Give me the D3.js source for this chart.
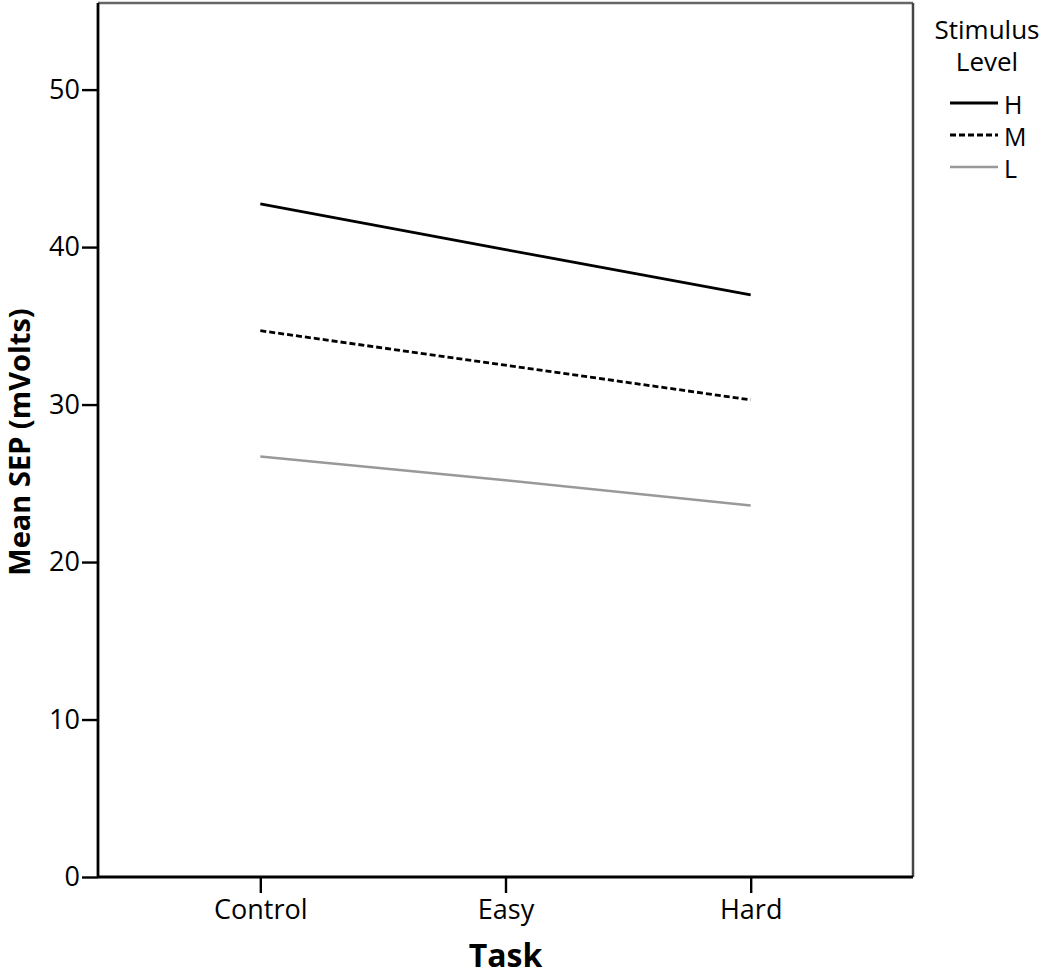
<!DOCTYPE html>
<html><head><meta charset="utf-8">
<script src="https://cdn.jsdelivr.net/npm/d3@7"></script>
<style>body{margin:0;background:#fff}svg{display:block}text{font-family:"Open Sans",sans-serif;fill:#000}</style>
</head><body>
<svg id="c" width="1050" height="975"></svg>
<script>
const categories = ["Control", "Easy", "Hard"];
const seriesNames = ["H", "M", "L"];
const valuesH = [42.75, 39.84, 36.96];
const valuesM = [34.69, 32.5, 30.3];
const valuesL = [26.7, 25.19, 23.59];
const yTicks = [0, 10, 20, 30, 40, 50];
const yMax = 55.5;

const series = [
  {name: seriesNames[0], values: valuesH, color: "#000", width: 2.8, dash: null},
  {name: seriesNames[1], values: valuesM, color: "#000", width: 2.8, dash: "6,3"},
  {name: seriesNames[2], values: valuesL, color: "#999", width: 2.4, dash: null}
];

const svg = d3.select("#c");
const L = 98, R = 913, T = 3, B = 877;
const x = d3.scalePoint().domain(categories).range([L, R]).padding(0.662);
const y = d3.scaleLinear().domain([0, yMax]).range([B, T]);

// frame
svg.append("line").attr("x1", L).attr("x2", R).attr("y1", T).attr("y2", T).attr("stroke", "#666").attr("stroke-width", 2.5);
svg.append("line").attr("x1", R).attr("x2", R).attr("y1", T).attr("y2", B).attr("stroke", "#444").attr("stroke-width", 2.5);

const yAxis = svg.append("g").attr("transform", `translate(${L},0)`)
  .call(d3.axisLeft(y).tickValues(yTicks).tickSize(16).tickPadding(2).tickSizeOuter(0));
const xAxis = svg.append("g").attr("transform", `translate(0,${B})`)
  .call(d3.axisBottom(x).tickSize(16).tickPadding(7).tickSizeOuter(0));
[yAxis, xAxis].forEach(a => {
  a.select(".domain").attr("stroke", "#000").attr("stroke-width", 2.8);
  a.selectAll(".tick line").attr("stroke", "#000").attr("stroke-width", 2.4);
  a.selectAll(".tick text").attr("font-size", 27).attr("font-family", "Open Sans").attr("fill", "#111");
});
yAxis.select(".domain").attr("d", `M0,${T}V${B}`);
xAxis.select(".domain").attr("d", `M${L},0H${R}`);

const line = d3.line().x((d, i) => x(categories[i])).y(d => y(d));
series.forEach(s => {
  svg.append("path").datum(s.values).attr("d", line).attr("fill", "none")
    .attr("stroke", s.color).attr("stroke-width", s.width)
    .attr("stroke-dasharray", s.dash);
});

// axis titles
svg.append("text").attr("x", x("Easy")).attr("y", 967).attr("text-anchor", "middle")
  .attr("font-size", 32).attr("font-weight", "bold").text("Task");
svg.append("text").attr("transform", `translate(30,${(T + B) / 2 + 2}) rotate(-90)`).attr("text-anchor", "middle")
  .attr("font-size", 29).attr("font-weight", "bold").text("Mean SEP (mVolts)");

// legend
const lg = svg.append("g");
lg.append("text").attr("x", 987).attr("y", 39).attr("text-anchor", "middle").attr("font-size", 26).text("Stimulus");
lg.append("text").attr("x", 987).attr("y", 71).attr("text-anchor", "middle").attr("font-size", 26).text("Level");
const ly = d3.scalePoint().domain(seriesNames).range([103, 167]);
series.forEach(s => {
  lg.append("line").attr("x1", 950).attr("x2", 998).attr("y1", ly(s.name)).attr("y2", ly(s.name))
    .attr("stroke", s.color).attr("stroke-width", s.width).attr("stroke-dasharray", s.dash);
  lg.append("text").attr("x", 1004).attr("y", ly(s.name) + 11).attr("font-size", 25).text(s.name);
});
</script>
</body></html>
